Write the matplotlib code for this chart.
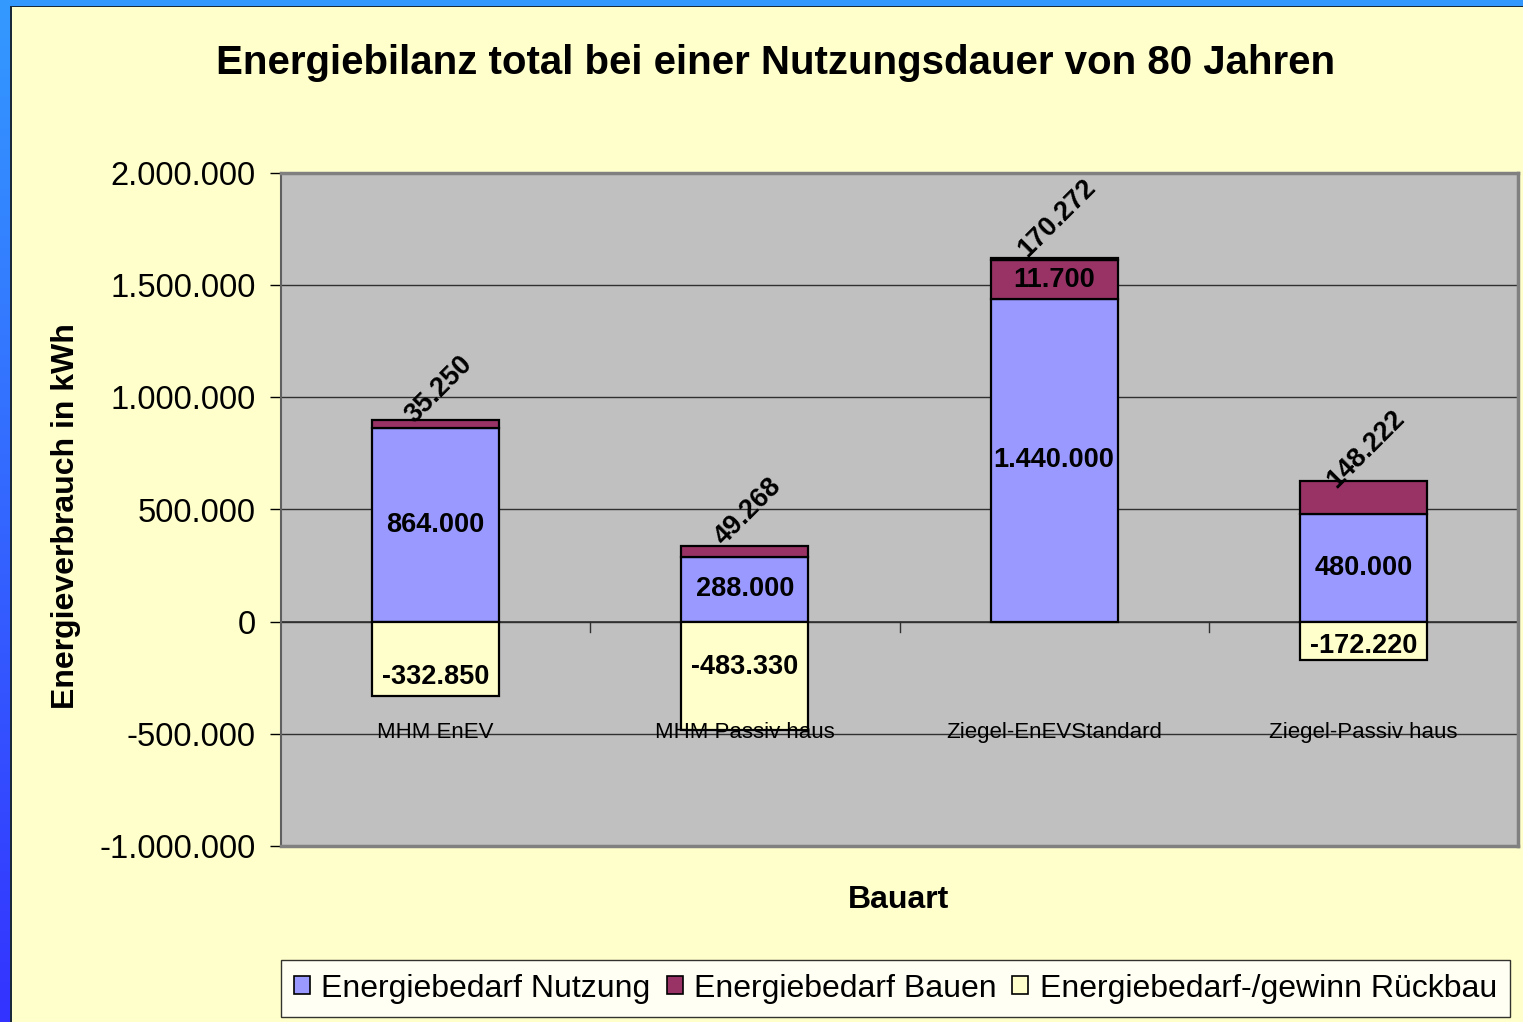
import matplotlib
matplotlib.use("Agg")
import matplotlib.pyplot as plt
import numpy as np
from matplotlib.patches import Rectangle
from matplotlib.ticker import FuncFormatter
from matplotlib.colors import LinearSegmentedColormap

plt.rcParams['font.family'] = ['Liberation Sans', 'DejaVu Sans']

categories = ["MHM EnEV", "MHM Passiv haus", "Ziegel-EnEVStandard", "Ziegel-Passiv haus"]
nutzung = [864000, 288000, 1440000, 480000]
bauen = [35250, 49268, 170272, 148222]
rueckbau = [-332850, -483330, 11700, -172220]
series_names = ["Energiebedarf Nutzung", "Energiebedarf Bauen", "Energiebedarf-/gewinn Rückbau"]
yticks = [-1000000, -500000, 0, 500000, 1000000, 1500000, 2000000]

W, H = 1523, 1022
fig = plt.figure(figsize=(W / 100, H / 100), dpi=100)
fig.patch.set_facecolor('#FFFFCC')

# blue frame (top + left gradient strip)
fig.patches.append(Rectangle((0, 1 - 6 / H), 1, 6 / H, transform=fig.transFigure,
                             facecolor='#3399FF', edgecolor='none', zorder=0))
fig.patches.append(Rectangle((10 / W, 1 - 7.5 / H), 1, 1.5 / H, transform=fig.transFigure,
                             facecolor='#1a2a3a', edgecolor='none', zorder=0))
gax = fig.add_axes([0, 0, 10 / W, 1 - 6 / H])
grad = np.linspace(0, 1, 256).reshape(-1, 1)
cm = LinearSegmentedColormap.from_list('g', ['#3399FF', '#3333FF'])
gax.imshow(grad, aspect='auto', cmap=cm, origin='upper')
gax.axis('off')
fig.patches.append(Rectangle((10 / W, 0), 1.5 / W, 1 - 6 / H, transform=fig.transFigure,
                             facecolor='#1a2a3a', edgecolor='none', zorder=0))

ax = fig.add_axes([281 / W, 1 - 846 / H, 1237 / W, (846 - 173) / H])
ax.set_facecolor('#C0C0C0')

x = np.arange(len(categories))
bw = 0.41
c_n, c_b, c_r = '#9999FF', '#993366', '#FFFFCC'
n = np.array(nutzung)
b = np.array(bauen)
r = np.array(rueckbau)
ax.bar(x, n, bw, color=c_n, edgecolor='black', linewidth=1.6, zorder=3, label=series_names[0])
ax.bar(x, b, bw, bottom=n, color=c_b, edgecolor='black', linewidth=1.6, zorder=3, label=series_names[1])
r_bottom = np.where(r > 0, n + b, 0)
ax.bar(x, r, bw, bottom=r_bottom, color=c_r, edgecolor='black', linewidth=1.6, zorder=3, label=series_names[2])

ax.set_xlim(-0.5, len(categories) - 0.5)
ax.set_ylim(-1000000, 2000000)
ax.set_yticks(yticks)
ax.yaxis.set_major_formatter(FuncFormatter(lambda v, p: f"{int(v):,}".replace(",", ".")))
ax.tick_params(axis='y', labelsize=23.5, length=8, width=1, pad=10, colors='black')
for yv in yticks:
    ax.axhline(yv, color='#303030', linewidth=1.0, zorder=1)
ax.axhline(0, color='#303030', linewidth=1.2, zorder=2)

# x ticks at category boundaries on zero line
ax.set_xticks([])
for xb in [0.5, 1.5, 2.5]:
    ax.plot([xb, xb], [0, -45000], color='#303030', linewidth=1.0, zorder=2)

for s in ['top', 'right', 'bottom']:
    ax.spines[s].set_color('#808080')
    ax.spines[s].set_linewidth(2.5)
ax.spines['left'].set_color('#606060')
ax.spines['left'].set_linewidth(1.5)

lab = lambda v: f"{v:,}".replace(",", ".")
# Nutzung labels at segment center
for xi, v in zip(x, nutzung):
    ax.text(xi, v / 2, lab(v), ha='center', va='center', fontsize=19.5, fontweight='bold', zorder=5)
# Bauen labels rotated above bar
tops = n + b + np.where(r > 0, r, 0)
bauen_offsets = [30, 34, 40, 31]
for xi, v, t, off in zip(x, bauen, tops, bauen_offsets):
    ax.annotate(lab(v), (xi, t), xytext=(2, off * 0.72), textcoords='offset points',
                rotation=45, rotation_mode='anchor', ha='center', va='center',
                fontsize=19.5, fontweight='bold', zorder=5)
# Rueckbau labels
rueck_label_y = [-245000, -200500, 1525000, -107000]
for xi, v, yy in zip(x, rueckbau, rueck_label_y):
    ax.text(xi, yy, lab(v), ha='center', va='center', fontsize=19.5, fontweight='bold', zorder=5)

# category labels inside plot area
for xi, c in zip(x, categories):
    ax.text(xi, -495000, c, ha='center', va='center', fontsize=16, zorder=6)

fig.text(776 / W, 1 - 63 / H, "Energiebilanz total bei einer Nutzungsdauer von 80 Jahren",
         ha='center', va='center', fontsize=29, fontweight='bold')
fig.text(898 / W, 1 - 900 / H, "Bauart", ha='center', va='center', fontsize=23, fontweight='bold')
fig.text(66 / W, 1 - 516 / H, "Energieverbrauch in kWh", ha='center', va='center',
         rotation=90, fontsize=23, fontweight='bold')

h, l = ax.get_legend_handles_labels()
leg = fig.legend(h, l, loc='center', bbox_to_anchor=(895.5 / W, 1 - 988.5 / H), ncol=3,
                 fontsize=23, frameon=True, fancybox=False, edgecolor='black',
                 handlelength=0.5, handleheight=0.5, handletextpad=0.35, columnspacing=0.5,
                 borderpad=0.42)
leg.get_frame().set_facecolor('white')
leg.get_frame().set_linewidth(1.0)
for p in leg.get_patches():
    p.set_linewidth(1.2)

fig.savefig("out.png", dpi=100, facecolor=fig.get_facecolor())
